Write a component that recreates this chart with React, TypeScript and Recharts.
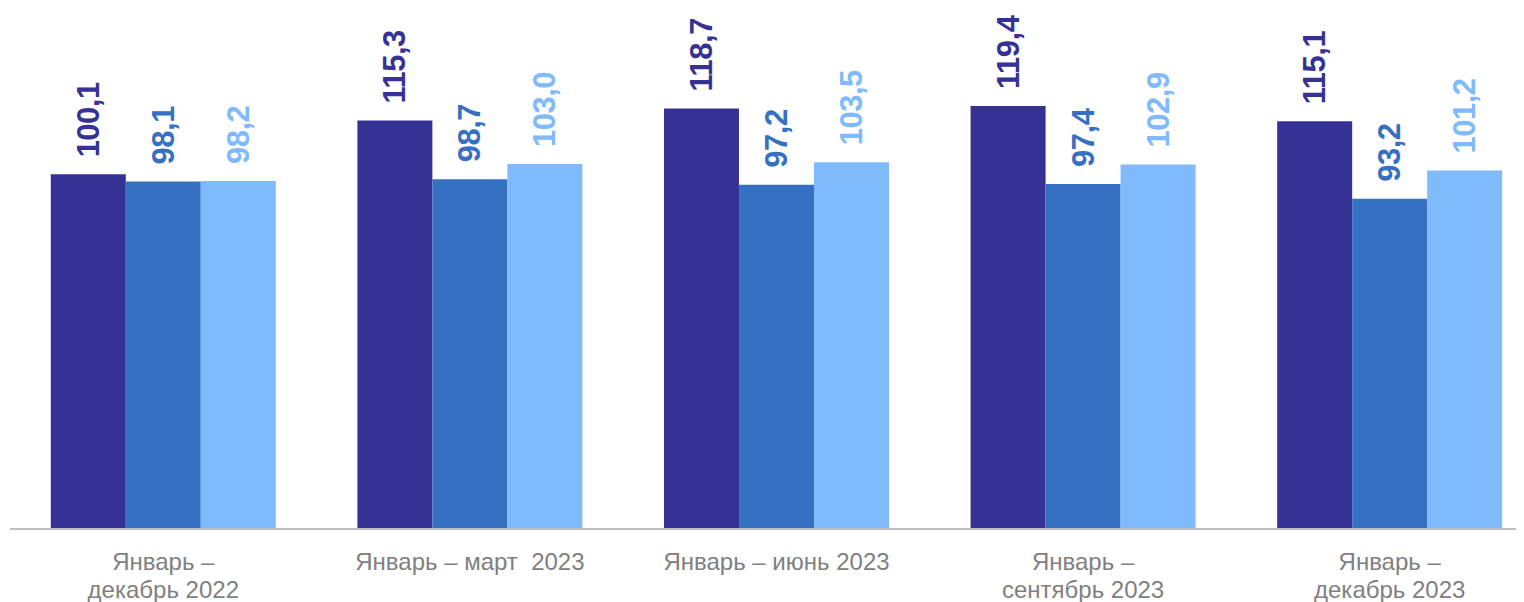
import { Bar, BarChart, LabelList, XAxis, YAxis } from "recharts";

const CATEGORIES = [
  "Январь –\nдекабрь 2022",
  "Январь – март  2023",
  "Январь – июнь 2023",
  "Январь –\nсентябрь 2023",
  "Январь –\nдекабрь 2023",
];
const SERIES_A = [100.1, 115.3, 118.7, 119.4, 115.1];
const SERIES_B = [98.1, 98.7, 97.2, 97.4, 93.2];
const SERIES_C = [98.2, 103.0, 103.5, 102.9, 101.2];

const COLORS = ["#363194", "#3570C2", "#7FBAFC"];
const KEYS = ["a", "b", "c"] as const;

const data = CATEGORIES.map((name, i) => ({
  name,
  a: SERIES_A[i],
  b: SERIES_B[i],
  c: SERIES_C[i],
}));

const FONT = "'Liberation Sans', Arial, sans-serif";

function CategoryTick({ x, y, payload }: any) {
  const lines = String(payload.value).split("\n");
  return (
    <text
      x={x}
      y={y}
      textAnchor="middle"
      fill="#808080"
      fontSize={24}
      fontFamily={FONT}
      style={{ whiteSpace: "pre" }}
    >
      {lines.map((line, i) => (
        <tspan key={i} x={x} dy={i === 0 ? 33 : 28}>
          {line}
        </tspan>
      ))}
    </text>
  );
}

function valueLabel(color: string) {
  return (props: any) => {
    const { x, y, width, value } = props;
    const cx = Number(x) + Number(width) / 2;
    const cy = Number(y) - 17;
    return (
      <text
        x={cx}
        y={cy}
        transform={`rotate(-90, ${cx}, ${cy})`}
        textAnchor="start"
        dominantBaseline="central"
        fill={color}
        fontSize={31}
        fontWeight="bold"
        fontFamily={FONT}
        letterSpacing={-0.5}
      >
        {Number(value).toFixed(1).replace(".", ",")}
      </text>
    );
  };
}

export default function App() {
  return (
    <div style={{ width: 1516, height: 594, overflow: "hidden" }}>
      <BarChart
        width={1535}
        height={594}
        data={data}
        margin={{ top: 25, right: 0, left: 2, bottom: 0 }}
        barCategoryGap="13.3%"
        barGap={0}
      >
        <XAxis
          dataKey="name"
          axisLine={{ stroke: "#BFBFBF", strokeWidth: 2 }}
          tickLine={false}
          height={73}
          interval={0}
          tick={<CategoryTick />}
        />
        <YAxis hide domain={[0, 140]} />
        {KEYS.map((key, i) => (
          <Bar
            key={key}
            dataKey={key}
            fill={COLORS[i]}
            isAnimationActive={false}
          >
            <LabelList dataKey={key} content={valueLabel(COLORS[i])} />
          </Bar>
        ))}
      </BarChart>
    </div>
  );
}
